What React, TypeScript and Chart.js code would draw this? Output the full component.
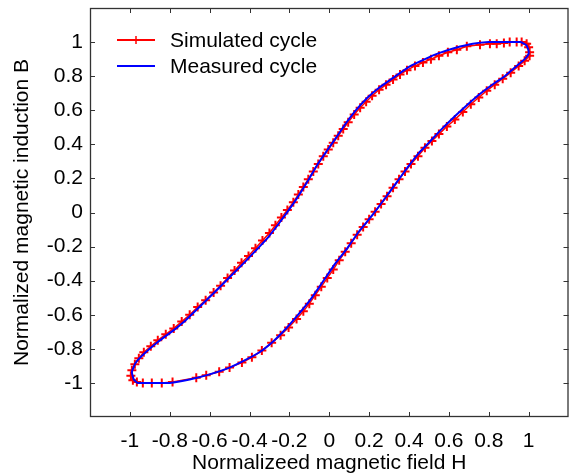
import React, { useEffect, useRef } from "react";
import { Chart, registerables } from "chart.js";

Chart.register(...registerables);

// Measured cycle (blue line)
const measH = [
  1.0, 0.99, 0.96, 0.9, 0.8, 0.72, 0.63, 0.55, 0.48, 0.4, 0.32, 0.25, 0.19, 0.13, 0.08, 0.03,
  -0.01, -0.06, -0.1, -0.17, -0.25, -0.31, -0.37, -0.44, -0.5, -0.57, -0.65, -0.72, -0.78, -0.86,
  -0.93, -0.97, -0.99, -0.98, -0.96,
  -0.9, -0.8, -0.7, -0.6, -0.5, -0.42, -0.35, -0.28, -0.22, -0.16, -0.1, -0.04, 0.03, 0.09, 0.15,
  0.22, 0.29, 0.34, 0.39, 0.45, 0.5, 0.56, 0.63, 0.7, 0.76, 0.83, 0.88, 0.94, 0.98, 1.0, 1.0,
];
const measB = [
  0.95, 0.98, 1.0, 1.0, 1.0, 0.99, 0.965, 0.935, 0.9, 0.855, 0.79, 0.732, 0.672, 0.595, 0.518, 0.432,
  0.365, 0.28, 0.2, 0.07, -0.06, -0.15, -0.225, -0.31, -0.38, -0.462, -0.553, -0.632, -0.69, -0.76,
  -0.83, -0.88, -0.935, -0.98, -1.0,
  -1.0, -1.0, -0.98, -0.95, -0.91, -0.865, -0.82, -0.755, -0.685, -0.605, -0.52, -0.42, -0.3, -0.21, -0.11,
  -0.01, 0.1, 0.18, 0.26, 0.35, 0.41, 0.485, 0.565, 0.64, 0.7, 0.76, 0.8, 0.86, 0.9, 0.93, 0.95,
];

// Simulated cycle (red line with + markers)
const simH = [
  1.005, 1.0, 0.99, 0.965, 0.94, 0.905, 0.876, 0.84, 0.806, 0.756, 0.69, 0.64, 0.595, 0.55, 0.51,
  0.47, 0.43, 0.39, 0.355, 0.32, 0.285, 0.25, 0.215, 0.185, 0.155, 0.125, 0.095, 0.07, 0.045, 0.02,
  -0.005, -0.03, -0.055, -0.08, -0.105, -0.13, -0.155, -0.18, -0.21, -0.24, -0.27, -0.3, -0.335,
  -0.37, -0.405, -0.44, -0.475, -0.51, -0.545, -0.58, -0.62, -0.66, -0.7, -0.74, -0.78, -0.82,
  -0.86, -0.895, -0.93, -0.955, -0.975, -0.99, -0.995, -0.985,
  -0.965, -0.935, -0.89, -0.84, -0.786, -0.667, -0.617, -0.552, -0.5, -0.438, -0.388, -0.338,
  -0.289, -0.244, -0.204, -0.164, -0.13, -0.1, -0.07, -0.04, -0.01, 0.02, 0.05, 0.08, 0.11, 0.14,
  0.17, 0.2, 0.23, 0.26, 0.29, 0.32, 0.35, 0.38, 0.41, 0.445, 0.48, 0.515, 0.55, 0.59, 0.63, 0.67,
  0.71, 0.75, 0.79, 0.83, 0.87, 0.91, 0.95, 0.98, 1.005,
];
const simB = [
  0.94, 0.97, 0.99, 1.0, 1.0, 1.0, 0.995, 0.99, 0.99, 0.985, 0.975, 0.955, 0.94, 0.92, 0.9,
  0.88, 0.86, 0.835, 0.81, 0.78, 0.75, 0.72, 0.685, 0.65, 0.615, 0.575, 0.53, 0.49, 0.45, 0.41,
  0.37, 0.33, 0.285, 0.24, 0.195, 0.15, 0.105, 0.06, 0.015, -0.03, -0.075, -0.12, -0.165,
  -0.21, -0.255, -0.295, -0.34, -0.385, -0.43, -0.47, -0.515, -0.555, -0.6, -0.64, -0.68, -0.715,
  -0.75, -0.785, -0.82, -0.855, -0.89, -0.925, -0.958, -0.985,
  -0.995, -1.0, -1.0, -1.0, -0.995, -0.97, -0.955, -0.935, -0.91, -0.88, -0.85, -0.81,
  -0.765, -0.72, -0.675, -0.625, -0.58, -0.535, -0.485, -0.435, -0.385, -0.335, -0.28, -0.23, -0.18, -0.13,
  -0.085, -0.04, 0.005, 0.05, 0.095, 0.145, 0.195, 0.24, 0.285, 0.33, 0.38, 0.42, 0.46, 0.505, 0.545, 0.59,
  0.635, 0.675, 0.715, 0.75, 0.785, 0.82, 0.86, 0.89, 0.92,
];

const tickValues = [-1, -0.8, -0.6, -0.4, -0.2, 0, 0.2, 0.4, 0.6, 0.8, 1];
const legendLabels = ["Simulated cycle", "Measured cycle"];
const xTitle = "Normalizeed magnetic field H";
const yTitle = "Normalized magnetic induction B";

const FONT = "'Liberation Sans', Arial, sans-serif";
const RED = "#ff0000";
const BLUE = "#0000ff";
const FRAME = "#333333";

const fmt = (v: number) => String(Math.round(v * 10) / 10);

const framePlugin = {
  id: "frameTicks",
  afterDraw(chart: any) {
    const { ctx, chartArea } = chart;
    const { left, right, top, bottom } = chartArea;
    const xs = chart.scales.x;
    const ys = chart.scales.y;
    ctx.save();
    ctx.strokeStyle = FRAME;
    ctx.lineWidth = 1;
    const L = 5;
    ctx.beginPath();
    tickValues.forEach((v) => {
      const px = Math.round(xs.getPixelForValue(v)) + 0.5;
      ctx.moveTo(px, bottom);
      ctx.lineTo(px, bottom - L);
      ctx.moveTo(px, top);
      ctx.lineTo(px, top + L);
      const py = Math.round(ys.getPixelForValue(v)) + 0.5;
      ctx.moveTo(left, py);
      ctx.lineTo(left + L, py);
      ctx.moveTo(right, py);
      ctx.lineTo(right - L, py);
    });
    ctx.stroke();
    ctx.lineWidth = 1.3;
    ctx.strokeRect(left + 0.5, top + 0.5, right - left - 1, bottom - top - 1);
    // legend
    const lx0 = left + 27;
    const lx1 = left + 65;
    const ly = [top + 32, top + 58];
    const colors = [RED, BLUE];
    ctx.font = `21px ${FONT}`;
    ctx.textBaseline = "middle";
    ctx.textAlign = "left";
    legendLabels.forEach((lab, i) => {
      ctx.strokeStyle = colors[i];
      ctx.lineWidth = 2;
      ctx.beginPath();
      ctx.moveTo(lx0, ly[i]);
      ctx.lineTo(lx1, ly[i]);
      ctx.stroke();
      if (i === 0) {
        const cx = (lx0 + lx1) / 2;
        ctx.lineWidth = 1.5;
        ctx.beginPath();
        ctx.moveTo(cx, ly[i] - 4);
        ctx.lineTo(cx, ly[i] + 4);
        ctx.stroke();
      }
      ctx.fillStyle = "#000";
      ctx.fillText(lab, left + 80, ly[i] + 1);
    });
    ctx.restore();
  },
};

export default function App() {
  const ref = useRef<HTMLCanvasElement | null>(null);
  useEffect(() => {
    if (!ref.current) return;
    const sim = simH.map((h, i) => ({ x: h, y: simB[i] }));
    const meas = measH.map((h, i) => ({ x: h, y: measB[i] }));
    const chart = new Chart(ref.current, {
      type: "scatter",
      data: {
        datasets: [
          {
            label: legendLabels[0],
            data: sim,
            showLine: true,
            borderColor: RED,
            backgroundColor: RED,
            borderWidth: 1.5,
            pointStyle: "cross",
            pointRadius: 4.5,
            pointBorderWidth: 2,
            pointBorderColor: RED,
            order: 2,
            tension: 0,
          },
          {
            label: legendLabels[1],
            data: meas,
            showLine: true,
            borderColor: BLUE,
            backgroundColor: BLUE,
            borderWidth: 2,
            pointRadius: 0,
            order: 1,
            tension: 0.15,
          },
        ],
      },
      options: {
        animation: false,
        responsive: false,
        devicePixelRatio: 1,
        layout: { padding: { left: 0, right: 1, top: 8, bottom: 0 } },
        plugins: {
          legend: { display: false },
          tooltip: { enabled: false },
        },
        scales: {
          x: {
            type: "linear",
            min: -1.2,
            max: 1.2,
            afterBuildTicks: (s: any) => {
              s.ticks = tickValues.map((v) => ({ value: v }));
            },
            afterFit: (s: any) => {
              s.height = 59;
              s.paddingLeft = 0;
              s.paddingRight = 0;
            },
            grid: { display: false, drawTicks: false },
            border: { display: false },
            ticks: {
              autoSkip: false,
              maxRotation: 0,
              minRotation: 0,
              padding: 12,
              color: "#000",
              font: { family: FONT, size: 21 },
              callback: (v: any) => fmt(Number(v)),
            },
            title: {
              display: true,
              text: xTitle,
              color: "#000",
              font: { family: FONT, size: 21 },
              padding: { top: 0, bottom: 0 },
            },
          },
          y: {
            type: "linear",
            min: -1.2,
            max: 1.2,
            afterBuildTicks: (s: any) => {
              s.ticks = tickValues.map((v) => ({ value: v }));
            },
            afterFit: (s: any) => {
              s.width = 90;
              s.paddingTop = 0;
              s.paddingBottom = 0;
            },
            grid: { display: false, drawTicks: false },
            border: { display: false },
            ticks: {
              autoSkip: false,
              padding: 7,
              color: "#000",
              font: { family: FONT, size: 21 },
              callback: (v: any) => fmt(Number(v)),
            },
            title: {
              display: true,
              text: yTitle,
              color: "#000",
              font: { family: FONT, size: 21 },
              padding: { top: 10, bottom: 0 },
            },
          },
        },
      },
      plugins: [framePlugin],
    } as any);
    return () => chart.destroy();
  }, []);
  return (
    <div style={{ position: "fixed", left: 0, top: 0, width: 575, height: 476, background: "#fff" }}>
      <canvas ref={ref} width={575} height={476} style={{ display: "block" }} />
    </div>
  );
}
